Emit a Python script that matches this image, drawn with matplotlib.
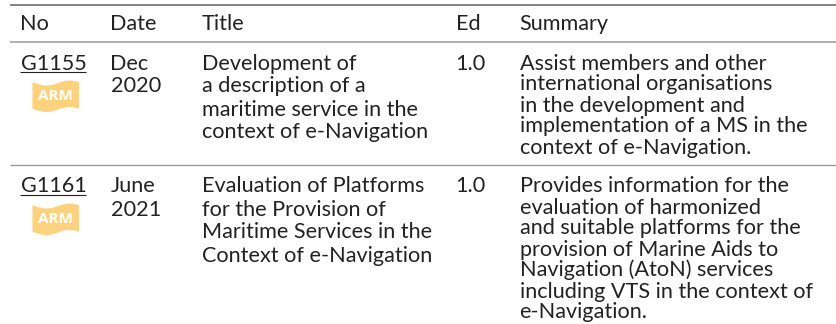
import matplotlib
matplotlib.use("Agg")
import matplotlib.pyplot as plt
import numpy as np

headers = ["No", "Date", "Title", "Ed", "Summary"]
numbers = ["G1155", "G1161"]
dates = [["Dec", "2020"], ["June", "2021"]]
titles = [
    ["Development of", "a description of a", "maritime service in the", "context of e-Navigation"],
    ["Evaluation of Platforms", "for the Provision of", "Maritime Services in the", "Context of e-Navigation"],
]
editions = ["1.0", "1.0"]
summaries = [
    ["Assist members and other", "international organisations", "in the development and",
     "implementation of a MS in the", "context of e-Navigation."],
    ["Provides information for the", "evaluation of harmonized", "and suitable platforms for the",
     "provision of Marine Aids to", "Navigation (AtoN) services", "including VTS in the context of",
     "e-Navigation."],
]
badge = "ARM"

plt.rcParams["font.family"] = ["Lato", "DejaVu Sans"]
W, H = 836, 324
fig = plt.figure(figsize=(W / 100, H / 100), dpi=100)
ax = fig.add_axes([0, 0, 1, 1])
ax.set_xlim(0, W)
ax.set_ylim(H, 0)
ax.axis("off")

col_x = [20.5, 110.5, 201.5, 455.5, 519.5]
fs = 15.6
ink = "#222222"


def flag(x0, y0):
    # wavy ARM banner
    t = np.linspace(0, 1, 60)
    wave = 2.5 * np.sin(2 * np.pi * (t - 0.05))
    ax.fill_between(x0 + 46.5 * t, y0 + 2.5 + wave, y0 + 29 + wave, color="#fdd27f", lw=0)
    ax.text(x0 + 23, y0 + 16, badge, fontsize=11, fontweight="bold", color="white",
            ha="center", va="center", family="Open Sans")


def lines(x, y0, rows, step):
    for i, s in enumerate(rows):
        ax.text(x, y0 + i * step, s, fontsize=fs, color=ink, ha="left", va="baseline")


for y, c, lw in [(4.5, "#777777", 1.3), (42, "#aaaaaa", 1.3), (165, "#999999", 1.0)]:
    ax.plot([10, 836], [y, y], color=c, lw=lw, solid_capstyle="butt")

for x, h in zip(col_x, headers):
    ax.text(x, 30.5, h, fontsize=fs, color=ink, ha="left", va="baseline")

row_base = [69.5, 192.5]
for r in range(2):
    base = row_base[r]
    ax.text(col_x[0], base, numbers[r], fontsize=fs, color=ink, ha="left", va="baseline")
    ax.plot([20, 86], [base + 2, base + 2], color=ink, lw=0.8, solid_capstyle="butt")
    flag(32, base + 10.5)
    lines(col_x[1], base, dates[r], 23)
    lines(col_x[2], base, titles[r], 23)
    ax.text(col_x[3], base, editions[r], fontsize=fs, color=ink, ha="left", va="baseline")
    lines(col_x[4], base, summaries[r], 21)

fig.savefig("out.png", dpi=100)
